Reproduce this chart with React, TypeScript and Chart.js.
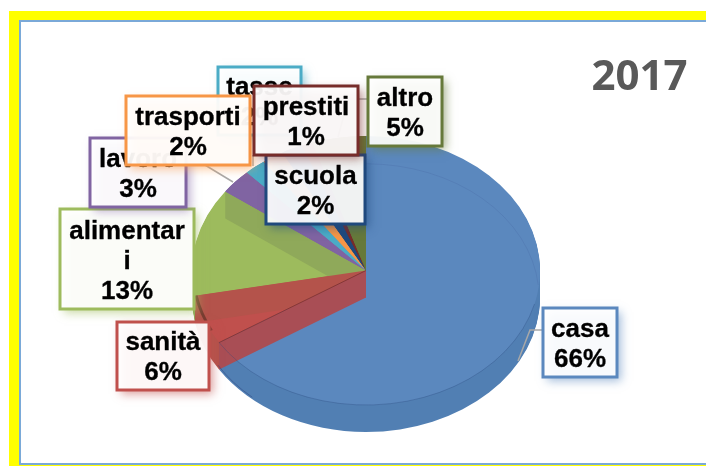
import React, { useEffect, useRef } from "react";
import { Chart, registerables } from "chart.js";

Chart.register(...registerables);

// ---- data ----
const categories = ["casa", "sanità", "alimentari", "lavoro", "tasse", "trasporti", "scuola", "prestiti", "altro"];
const shares = [66, 6, 13, 3, 2, 2, 2, 1, 5];
const sliceColors = ["#5b88be", "#c0504d", "#9dbb5d", "#8064a2", "#4bacc6", "#f79646", "#1f497d", "#772c2a", "#66793a"];
const wallColors = ["#5580b4", "#b4534b", "#8fa95a", "#77609a", "#46a0b8", "#d98a4a", "#1c4270", "#6c2a28", "#5c6e35"];
const chartTitle = "2017";

// ---- layout (not data) ----
const W = 706;
const H = 466;
const TILT = 0.773;
const DEPTH = 27;
// label boxes: category name, left, top, right, bottom (in paint order)
const labelBoxes: [string, number, number, number, number][] = [
  ["casa", 543, 308, 617, 377],
  ["sanità", 117, 322, 209, 390],
  ["alimentari", 60, 209, 194, 309],
  ["lavoro", 90, 138, 186, 207],
  ["tasse", 218, 67, 301, 135],
  ["trasporti", 126, 96, 250, 165],
  ["scuola", 266, 155, 365, 224],
  ["prestiti", 254, 86, 358, 155],
  ["altro", 368, 77, 442, 146],
];
const leaderLines: number[][][] = [
  [[518, 361], [530, 330], [543, 330]],
  [[205, 165], [233, 182]],
  [[253, 155], [253, 166]],
  [[358, 99], [367, 99]],
  [[348, 100], [338, 137]],
];

const frame = {
  id: "frame",
  beforeDraw(chart: any) {
    const c = chart.ctx;
    c.save();
    c.fillStyle = "#ffffff";
    c.fillRect(0, 0, W, H);
    c.fillStyle = "#ffff00";
    c.fillRect(9, 11, W - 9, H - 11);
    c.fillStyle = "#7aa9d8";
    c.fillRect(19, 20, W - 19, H - 20 - 1);
    c.fillStyle = "#ffffff";
    c.fillRect(21, 22, W - 21, H - 22 - 3);
    c.restore();
  },
};

const pie3d = {
  id: "pie3d",
  beforeDatasetsDraw(chart: any) {
    const c = chart.ctx;
    const arcs = chart.getDatasetMeta(0).data;
    const { x: cx, y: cy, outerRadius: r } = arcs[0];
    const tilted = (d: number, fn: () => void) => {
      c.save();
      c.translate(cx, cy + d);
      c.scale(1, TILT);
      fn();
      c.restore();
    };
    const rim = (a: number): [number, number] => [Math.cos(a) * r, Math.sin(a) * r];
    const topFace = (a: any) => {
      c.save();
      c.translate(cx, cy);
      c.scale(1, TILT);
      c.translate(-cx, -cy);
      a.draw(c);
      c.restore();
    };

    // extruded side
    const sideGrad = c.createLinearGradient(cx - r, 0, cx + r, 0);
    sideGrad.addColorStop(0, "#517fb3");
    sideGrad.addColorStop(0.45, "#5b87bc");
    sideGrad.addColorStop(0.75, "#5a85b6");
    sideGrad.addColorStop(0.92, "#4e76a4");
    sideGrad.addColorStop(1, "#3f5f85");
    for (let d = DEPTH; d >= 1; d--) {
      arcs.forEach((a: any, i: number) => {
        tilted(d, () => {
          c.beginPath();
          c.moveTo(0, 0);
          c.arc(0, 0, r, a.startAngle, a.endAngle);
          c.closePath();
          c.fillStyle = i === 0 ? sideGrad : wallColors[i];
          c.fill();
        });
      });
    }

    // top faces, through the library's own arc elements
    arcs.forEach(topFace);

    // inner walls seen through the top
    const wall = (angle: number, color: string) => {
      const [x, y] = rim(angle);
      c.save();
      c.translate(cx, cy);
      c.beginPath();
      c.moveTo(0, 0);
      c.lineTo(x, y * TILT);
      c.lineTo(x, y * TILT + DEPTH);
      c.lineTo(0, DEPTH);
      c.closePath();
      c.fillStyle = color;
      c.fill();
      c.restore();
    };
    wall(arcs[2].endAngle, wallColors[2]);
    wall(arcs[1].endAngle, wallColors[1]);
    // thin slices stay on top of the green wall
    arcs.forEach((a: any, i: number) => {
      if (i >= 3) topFace(a);
    });
    wall(arcs[1].startAngle, "#a94e55");

    // edge lines
    tilted(0, () => {
      c.beginPath();
      c.arc(0, 0, r, Math.PI * 0.08, arcs[0].endAngle);
      c.lineWidth = 1;
      c.strokeStyle = "rgba(40,70,120,0.35)";
      c.stroke();
      const [x, y] = rim(arcs[0].endAngle);
      c.beginPath();
      c.moveTo(0, 0);
      c.lineTo(x, y);
      c.strokeStyle = "rgba(90,30,30,0.55)";
      c.stroke();
      c.beginPath();
      c.arc(0, 0, r - 1, arcs[1].startAngle + 0.1, arcs[1].endAngle);
      c.lineWidth = 3;
      c.strokeStyle = "rgba(70,40,30,0.55)";
      c.stroke();
    });
    tilted(DEPTH, () => {
      c.beginPath();
      c.arc(0, 0, r - 1, Math.PI * 1.5, Math.PI * 1.97, false);
      c.lineWidth = 1;
      c.strokeStyle = "rgba(60,90,150,0.22)";
      c.stroke();
      c.beginPath();
      c.arc(0, 0, r - 2, Math.PI * 0.73, Math.PI * 0.83, false);
      c.strokeStyle = "rgba(40,60,120,0.5)";
      c.stroke();
    });
    return false;
  },
};

const wrap = (c: any, word: string, maxWidth: number): string[] => {
  const out: string[] = [];
  let cur = "";
  for (const ch of word) {
    if (cur && c.measureText(cur + ch).width > maxWidth) {
      out.push(cur);
      cur = ch;
    } else cur += ch;
  }
  out.push(cur);
  return out;
};

const labels = {
  id: "labels",
  afterDraw(chart: any) {
    const c = chart.ctx;
    c.save();
    // leader lines
    c.strokeStyle = "#a8a8a8";
    c.lineWidth = 1.5;
    leaderLines.forEach((pts) => {
      c.beginPath();
      pts.forEach(([x, y], i) => (i ? c.lineTo(x, y) : c.moveTo(x, y)));
      c.stroke();
    });
    // callouts
    c.font = 'bold 26px "Liberation Sans"';
    c.textAlign = "center";
    c.textBaseline = "alphabetic";
    labelBoxes.forEach(([name, l, t, rt, b]) => {
      const idx = categories.indexOf(name);
      const w = rt - l;
      const h = b - t;
      c.save();
      c.shadowColor = sliceColors[idx] + "99";
      c.shadowBlur = 9;
      c.shadowOffsetX = 4;
      c.shadowOffsetY = 4;
      c.fillStyle = "rgba(255,255,255,0.92)";
      c.fillRect(l, t, w, h);
      c.restore();
      c.strokeStyle = sliceColors[idx];
      c.lineWidth = 3;
      c.strokeRect(l, t, w, h);
      const lines = [...wrap(c, name, w - 14), `${shares[idx]}%`];
      c.fillStyle = "#000000";
      c.strokeStyle = "#000000";
      c.lineWidth = 0.3;
      lines.forEach((ln, i) => {
        const y = b - 10 - (lines.length - 1 - i) * 30;
        c.fillText(ln, l + w / 2, y);
        c.strokeText(ln, l + w / 2, y);
      });
    });
    // title
    c.font = 'bold 42px "Open Sans"';
    c.fillStyle = "#595959";
    c.fillText(chartTitle, 639.5, 90);
    c.restore();
  },
};

export default function App() {
  const ref = useRef<HTMLCanvasElement>(null);
  useEffect(() => {
    const chart = new Chart(ref.current as HTMLCanvasElement, {
      type: "pie",
      data: {
        labels: categories,
        datasets: [{ data: shares, backgroundColor: sliceColors, borderWidth: 0 }],
      },
      options: {
        responsive: false,
        animation: false,
        layout: { padding: { left: 192, right: 166, top: 96.5, bottom: 21.5 } },
        plugins: { legend: { display: false }, title: { display: false }, tooltip: { enabled: false } },
      },
      plugins: [frame, pie3d, labels],
    } as any);
    return () => chart.destroy();
  }, []);
  return (
    <div style={{ position: "absolute", left: 0, top: 0, width: W, height: H, background: "#fff" }}>
      <canvas ref={ref} width={W} height={H} style={{ display: "block" }} />
    </div>
  );
}
